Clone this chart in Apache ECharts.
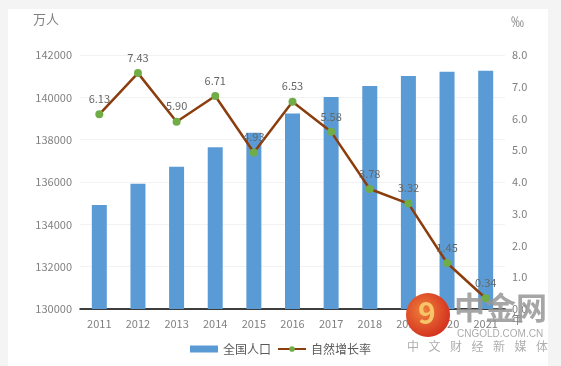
<!DOCTYPE html>
<html><head><meta charset="utf-8">
<script src="https://cdn.jsdelivr.net/npm/echarts@6/dist/echarts.min.js"></script>
<style>html,body{margin:0;padding:0;background:#f4f4f4}#c{width:561px;height:366px}</style>
</head><body><div id="c"></div>
<script>
var years = ['2011','2012','2013','2014','2015','2016','2017','2018','2019','2020','2021'];
var population = [134916,135922,136726,137646,138326,139232,140011,140541,141008,141212,141260];
var growthRate = [6.13,7.43,5.90,6.71,4.93,6.53,5.58,3.78,3.32,1.45,0.34];
var sloganChars = ['中','文','财','经','新','媒','体'];

var FONT = '"Noto Sans CJK SC", "Noto Sans", sans-serif';
var chart = echarts.init(document.getElementById('c'), null, {renderer:'canvas'});
var graphics = [
  {type:'rect', z:-10, silent:true, shape:{x:8,y:9,width:540,height:360}, style:{fill:'#ffffff'}},
  {type:'text', left:33, top:13, style:{text:'万人', fill:'#808080', font:'13px '+FONT}},
  {type:'text', left:511, top:15, style:{text:'‰', fill:'#808080', font:'13px '+FONT}},
  {type:'text', left:511, top:313, style:{text:'年', fill:'#808080', font:'12px '+FONT}},
  {type:'circle', z:50, shape:{cx:428,cy:315,r:22}, style:{fill:new echarts.graphic.RadialGradient(0.4,0.4,0.7,[{offset:0,color:'#f0803a'},{offset:1,color:'#d0281c'}])}},
  {type:'text', z:51, left:418, top:298, style:{text:'9', fill:'#f7c46a', font:'bold 30px '+FONT}},
  {type:'text', z:50, left:454, top:292, style:{text:'中金网', fill:'rgba(150,150,150,0.85)', font:'bold 31px '+FONT}},
  {type:'text', z:50, left:457, top:329, style:{text:'CNGOLD.COM.CN', fill:'rgba(150,150,150,0.8)', font:'10px "Liberation Sans", sans-serif'}}
];
sloganChars.forEach(function(ch, i){
  graphics.push({type:'text', z:50, left:407 + i*21.5, top:340, style:{text:ch, fill:'rgba(160,160,160,0.85)', font:'12px '+FONT}});
});
chart.setOption({
  backgroundColor: '#f4f4f4',
  textStyle: {fontFamily: FONT},
  animation: false,
  grid: {left: 80, right: 56, top: 55, bottom: 57},
  legend: {
    bottom: 6, left: 'center', itemGap: 6, itemWidth: 28, itemHeight: 7,
    textStyle: {color: '#595959', fontSize: 12, fontFamily: FONT},
    data: [{name:'全国人口', icon:'rect'}, {name:'自然增长率'}]
  },
  graphic: graphics,
  xAxis: {
    type: 'category', data: years,
    axisLine: {lineStyle: {color: '#000', width: 1.5}},
    axisTick: {inside: true, length: 6, lineStyle: {color: '#000'}},
    axisLabel: {color: '#808080', fontSize: 11, margin: 9}
  },
  yAxis: [
    {type:'value', min:130000, max:142000, interval:2000,
     axisLine:{show:false}, axisTick:{show:false},
     axisLabel:{color:'#808080', fontSize:11, margin:8, formatter:function(v){return String(v);}},
     splitLine:{lineStyle:{color:'#f2f2f2'}}},
    {type:'value', min:0, max:8, interval:1, position:'right',
     axisLine:{show:false}, axisTick:{show:false},
     axisLabel:{color:'#808080', fontSize:11, margin:7, formatter:function(v){return v.toFixed(1);}},
     splitLine:{show:false}}
  ],
  series: [
    {name:'全国人口', type:'bar', data:population, barWidth:15,
     itemStyle:{color:'#5b9bd5'}},
    {name:'自然增长率', type:'line', yAxisIndex:1, data:growthRate,
     symbol:'circle', symbolSize:8,
     lineStyle:{color:'#8b3d0e', width:2.5},
     itemStyle:{color:'#70ad47'},
     label:{show:true, position:'top', distance:6, color:'#666666', fontSize:11,
            formatter:function(p){return p.value.toFixed(2);}}}
  ]
});
</script></body></html>
